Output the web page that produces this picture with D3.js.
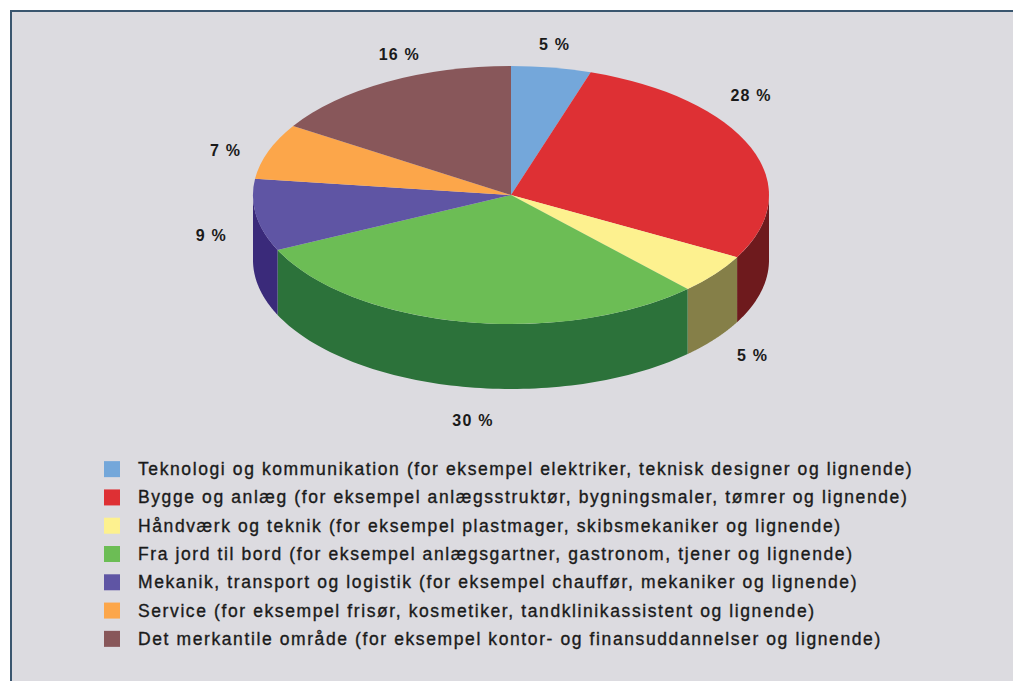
<!DOCTYPE html>
<html>
<head>
<meta charset="utf-8">
<script src="https://cdn.jsdelivr.net/npm/d3@7"></script>
<style>
  html, body { margin: 0; padding: 0; background: #ffffff; }
  svg { display: block; }
</style>
</head>
<body>
<svg id="chart" width="1013" height="681"></svg>
<script>
// ---- data ----
const categories = [
  "Teknologi og kommunikation (for eksempel elektriker, teknisk designer og lignende)",
  "Bygge og anlæg (for eksempel anlægsstruktør, bygningsmaler, tømrer og lignende)",
  "Håndværk og teknik (for eksempel plastmager, skibsmekaniker og lignende)",
  "Fra jord til bord (for eksempel anlægsgartner, gastronom, tjener og lignende)",
  "Mekanik, transport og logistik (for eksempel chauffør, mekaniker og lignende)",
  "Service (for eksempel frisør, kosmetiker, tandklinikassistent og lignende)",
  "Det merkantile område (for eksempel kontor- og finansuddannelser og lignende)"
];
const values = [5, 28, 5, 30, 9, 7, 16];
const valueLabels = ["5 %", "28 %", "5 %", "30 %", "9 %", "7 %", "16 %"];
const topColors  = ["#74a7da", "#de3034", "#fdf18f", "#6cbd55", "#5f55a4", "#fca64a", "#88575a"];
const sideColors = ["#3f6d9e", "#6e1a1d", "#857f48", "#2c723a", "#3a2a7a", "#a8652a", "#5a3335"];
// small nudges for the value labels (placement as in the original)
const labelNudge = [[-4, 0], [-43, -43], [1, 27], [19, 12], [1, 7], [1, 7], [35, -7]];

// ---- layout ----
const W = 1013, H = 681;
const cx = 511, cy = 195, rx = 258, ry = 129, depth = 65;
const svg = d3.select("#chart");

// frame
svg.append("rect").attr("x", 11).attr("y", 10).attr("width", W - 11).attr("height", H - 10)
  .attr("fill", "#dcdbe0");
svg.append("path").attr("d", `M${W},11 H11 V${H}`)
  .attr("fill", "none").attr("stroke", "#3a566f").attr("stroke-width", 2);

const pie = d3.pie().sort(null).value(d => d);
const arcsData = pie(values);

// side walls (only front half visible)
const lineGen = d3.line();
const sidesG = svg.append("g");
arcsData.forEach((a, i) => {
  const a0 = Math.max(a.startAngle, Math.PI / 2);
  const a1 = Math.min(a.endAngle, 3 * Math.PI / 2);
  if (a0 >= a1) return;
  const n = 80;
  const ts = d3.range(n + 1).map(k => a0 + (a1 - a0) * k / n);
  const topPts = ts.map(t => [cx + rx * Math.sin(t), cy - ry * Math.cos(t)]);
  const botPts = ts.slice().reverse().map(t => [cx + rx * Math.sin(t), cy - ry * Math.cos(t) + depth]);
  sidesG.append("path")
    .attr("d", lineGen(topPts.concat(botPts)) + "Z")
    .attr("fill", sideColors[i]);
});

// top surface
const arcGen = d3.arc().innerRadius(0).outerRadius(rx);
const topG = svg.append("g").attr("transform", `translate(${cx},${cy}) scale(1,${ry / rx})`);
topG.selectAll("path").data(arcsData).join("path")
  .attr("d", arcGen)
  .attr("fill", (d, i) => topColors[i]);

// value labels
const rxl = rx * 1.18, ryl = ry * 1.18;
svg.append("g").selectAll("text").data(arcsData).join("text")
  .attr("x", (d, i) => {
    const m = (d.startAngle + d.endAngle) / 2;
    return cx + rxl * Math.sin(m) + labelNudge[i][0];
  })
  .attr("y", (d, i) => {
    const m = (d.startAngle + d.endAngle) / 2;
    const c = Math.cos(m);
    return cy - ryl * c + (c < 0 ? -c * depth : 0) + labelNudge[i][1];
  })
  .attr("text-anchor", "middle")
  .attr("dominant-baseline", "central")
  .attr("font-family", "'Liberation Sans', Arial, sans-serif")
  .attr("font-weight", "bold")
  .attr("font-size", 16)
  .attr("letter-spacing", 1.2)
  .attr("fill", "#1a1a1a")
  .text((d, i) => valueLabels[i]);

// legend
const ly = d3.scaleBand().domain(d3.range(categories.length)).range([455, 653]);
const legendG = svg.append("g");
const rows = legendG.selectAll("g").data(categories).join("g")
  .attr("transform", (d, i) => `translate(0,${ly(i) + ly.bandwidth() / 2})`);
rows.append("rect").attr("x", 104).attr("y", -8).attr("width", 16).attr("height", 16)
  .attr("fill", (d, i) => topColors[i]);
rows.append("text").attr("x", 138).attr("y", 0)
  .attr("dominant-baseline", "central")
  .attr("font-family", "'Liberation Sans', Arial, sans-serif")
  .attr("font-size", 17.5)
  .attr("letter-spacing", 1.6)
  .attr("fill", "#1a1a1a")
  .attr("stroke", "#1a1a1a")
  .attr("stroke-width", 0.35)
  .text(d => d);
</script>
</body>
</html>
